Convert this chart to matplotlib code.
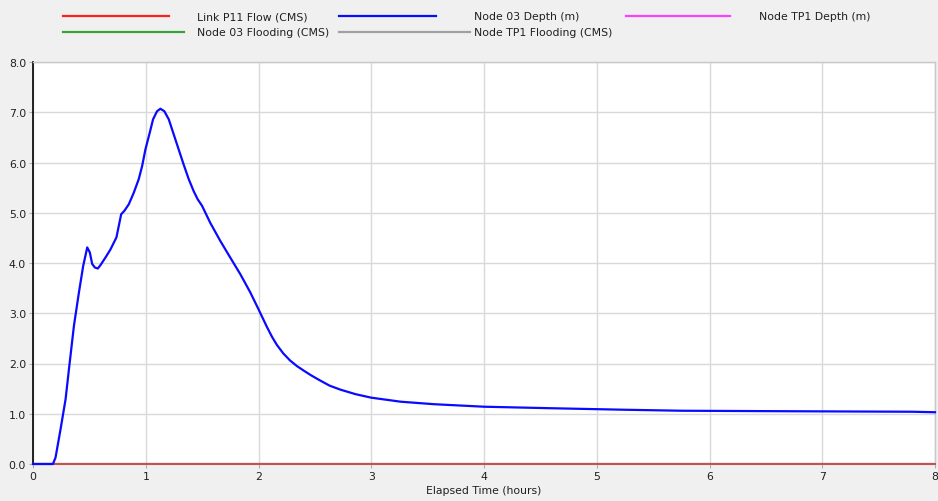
import matplotlib
matplotlib.use("Agg")
import matplotlib.pyplot as plt
from matplotlib.lines import Line2D

# Node 03 depth hydrograph (hours, metres)
depth_hours = [0.0, 0.177, 0.20, 0.245, 0.289, 0.319, 0.363, 0.407, 0.445, 0.481,
               0.504, 0.525, 0.549, 0.575, 0.599, 0.643, 0.687, 0.740, 0.761, 0.782,
               0.811, 0.85, 0.894, 0.938, 0.968, 0.997, 1.035, 1.065, 1.100, 1.130,
               1.165, 1.204, 1.248, 1.292, 1.336, 1.381, 1.425, 1.460, 1.499, 1.572,
               1.661, 1.749, 1.838, 1.926, 2.0, 2.074, 2.12, 2.163, 2.22, 2.28,
               2.34, 2.40, 2.47, 2.548, 2.63, 2.726, 2.86, 3.0, 3.26, 3.556,
               4.0, 4.59, 5.24, 5.75, 6.7, 7.8, 8.0]
depth_m = [0.0, 0.0, 0.13, 0.70, 1.29, 1.89, 2.75, 3.41, 3.94, 4.31,
           4.21, 3.98, 3.91, 3.89, 3.96, 4.11, 4.27, 4.51, 4.74, 4.97,
           5.04, 5.17, 5.40, 5.67, 5.93, 6.26, 6.59, 6.86, 7.02, 7.07,
           7.02, 6.86, 6.56, 6.26, 5.96, 5.67, 5.43, 5.27, 5.14, 4.80,
           4.44, 4.11, 3.78, 3.42, 3.08, 2.73, 2.53, 2.37, 2.20, 2.06,
           1.95, 1.86, 1.76, 1.66, 1.56, 1.48, 1.39, 1.32, 1.24, 1.19,
           1.14, 1.11, 1.08, 1.06, 1.05, 1.04, 1.03]

# Series that stay at zero over the whole run
zero_hours = [0.0, 8.0]
link_p11_flow = [0.0, 0.0]
node03_flooding = [0.0, 0.0]
tp1_flooding = [0.0, 0.0]
tp1_depth = [0.0, 0.0]

x_ticks = [0, 1, 2, 3, 4, 5, 6, 7, 8]
y_ticks = [0.0, 1.0, 2.0, 3.0, 4.0, 5.0, 6.0, 7.0, 8.0]

W, H = 938, 502
bg = "#f0f0f0"
fig = plt.figure(figsize=(W / 100, H / 100), dpi=100, facecolor=bg)
ax = fig.add_axes([33 / W, 1 - 465 / H, (935 - 33) / W, (465 - 63) / H])
ax.set_facecolor("white")

c_red, c_blue, c_mag, c_green, c_gray = "#ff2020", "#0a0aff", "#ff40ff", "#3aa03a", "#a0a0a0"

ax.plot(zero_hours, tp1_depth, color=c_mag, lw=1.5)
ax.plot(zero_hours, node03_flooding, color=c_green, lw=1.5)
ax.plot(zero_hours, tp1_flooding, color=c_gray, lw=1.5)
ax.plot(zero_hours, link_p11_flow, color="#c85050", lw=1.5, clip_on=False, zorder=3)
ax.plot(depth_hours, depth_m, color=c_blue, lw=1.6, clip_on=False, zorder=5,
        solid_joinstyle="round")

ax.set_xlim(0, 8)
ax.set_ylim(0, 8)
ax.set_xticks(x_ticks)
ax.set_yticks(y_ticks)
ax.set_xticklabels([str(v) for v in x_ticks])
ax.set_yticklabels([f"{v:.1f}" for v in y_ticks])
ax.grid(True, color="#d9d9d9", lw=1)
ax.set_axisbelow(True)
ax.tick_params(axis="both", labelsize=7.8, colors="#202020", length=3, width=0.8,
               pad=2)
ax.tick_params(axis="x", color="#b0b0b0")
ax.tick_params(axis="y", color="#b0b0b0")
for side in ("left", "bottom"):
    ax.spines[side].set_color("black")
    ax.spines[side].set_linewidth(1.2)
for side in ("top", "right"):
    ax.spines[side].set_color("#c8c8c8")
    ax.spines[side].set_linewidth(1)

fig.text(484 / W, 1 - 491 / H, "Elapsed Time (hours)", ha="center", va="center",
         fontsize=7.8, color="#202020")

# Legend drawn in figure pixel coordinates
legend_items = [
    ("Link P11 Flow (CMS)", c_red, 63, 169, 197, 17),
    ("Node 03 Depth (m)", c_blue, 339, 436, 474, 17),
    ("Node TP1 Depth (m)", c_mag, 626, 730, 759, 17),
    ("Node 03 Flooding (CMS)", c_green, 63, 184, 197, 33),
    ("Node TP1 Flooding (CMS)", c_gray, 339, 470, 474, 33),
]
for label, color, x0, x1, xt, y in legend_items:
    fig.add_artist(Line2D([x0 / W, x1 / W], [1 - y / H, 1 - y / H],
                          color=color, lw=1.6, transform=fig.transFigure))
    fig.text(xt / W, 1 - y / H, label, ha="left", va="center", fontsize=7.8,
             color="#202020")

fig.savefig("out.png", dpi=100, facecolor=bg)
